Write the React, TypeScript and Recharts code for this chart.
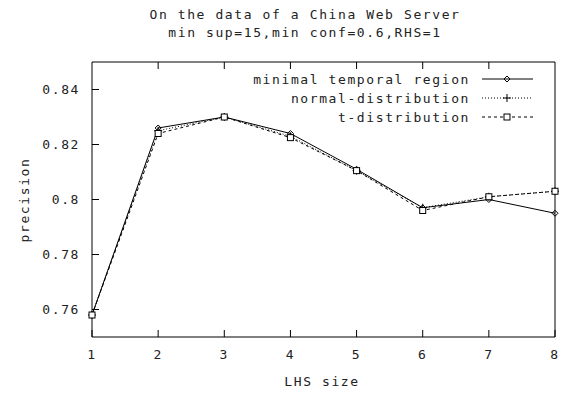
import React from "react";
import {
  LineChart,
  Line,
  XAxis,
  YAxis,
} from "recharts";

const lhsSize = [1, 2, 3, 4, 5, 6, 7, 8];
const minimalRegion = [0.758, 0.826, 0.83, 0.824, 0.811, 0.797, 0.8, 0.795];
const normalDist = [0.758, 0.825, 0.83, 0.823, 0.8105, 0.797, 0.801, 0.803];
const tDist = [0.758, 0.824, 0.83, 0.8225, 0.8105, 0.796, 0.801, 0.803];
const yTicks = [0.76, 0.78, 0.8, 0.82, 0.84];

const data = lhsSize.map((x, i) => ({
  x,
  minimal: minimalRegion[i],
  normal: normalDist[i],
  tdist: tDist[i],
}));

const FONT = "'DejaVu Sans Mono', monospace";
const textStyle = { fontFamily: FONT, fontSize: 13, letterSpacing: 1.6, fill: "#222" };
const TICK = 7;

const series = [
  { key: "minimal", name: "minimal temporal region", dash: undefined, marker: "diamond" },
  { key: "normal", name: "normal-distribution", dash: "1 2", marker: "plus" },
  { key: "tdist", name: "t-distribution", dash: "3 3", marker: "square" },
];

function Marker({ kind, cx, cy }: { kind: string; cx: number; cy: number }) {
  if (kind === "diamond")
    return (
      <polygon
        points={`${cx},${cy - 3} ${cx + 3},${cy} ${cx},${cy + 3} ${cx - 3},${cy}`}
        fill="none"
        stroke="#000"
      />
    );
  if (kind === "plus")
    return (
      <g stroke="#000">
        <line x1={cx - 4} y1={cy} x2={cx + 4} y2={cy} />
        <line x1={cx} y1={cy - 4} x2={cx} y2={cy + 4} />
      </g>
    );
  return <rect x={cx - 3} y={cy - 3} width={6} height={6} fill="#fff" stroke="#000" />;
}

const dotFor = (kind: string) => (p: any) =>
  <Marker key={`${kind}-${p.index}`} kind={kind} cx={p.cx} cy={p.cy} />;

function BottomTick({ x, y, payload }: any) {
  return (
    <g>
      <line x1={x} y1={y} x2={x} y2={y - TICK} stroke="#000" />
      <text x={x} y={y + 22} textAnchor="middle" style={textStyle}>
        {payload.value}
      </text>
    </g>
  );
}

function TopTick({ x, y }: any) {
  return <line x1={x} y1={y} x2={x} y2={y + TICK} stroke="#000" />;
}

function LeftTick({ x, y, payload }: any) {
  return (
    <g>
      <line x1={x} y1={y} x2={x + TICK} y2={y} stroke="#000" />
      <text x={x - 12} y={y + 4} textAnchor="end" style={textStyle}>
        {payload.value === 0.8 ? "0.8" : payload.value.toFixed(2)}
      </text>
    </g>
  );
}

function RightTick({ x, y }: any) {
  return <line x1={x} y1={y} x2={x - TICK} y2={y} stroke="#000" />;
}

// key drawn in the upper right corner of the plot
function KeyBox() {
  return (
    <g>
      {series.map((s, i) => {
        const y = 79 + i * 19;
        return (
          <g key={s.key}>
            <text x={470} y={y + 5} textAnchor="end" style={textStyle}>
              {s.name}
            </text>
            <line x1={482} y1={y} x2={533} y2={y} stroke="#000" strokeDasharray={s.dash} />
            <Marker kind={s.marker} cx={507} cy={y} />
          </g>
        );
      })}
    </g>
  );
}

export default function App() {
  return (
    <div style={{ position: "absolute", left: 0, top: 0, width: 561, height: 396, background: "#fff" }}>
      <LineChart
        width={561}
        height={396}
        data={data}
        margin={{ top: 61, right: 5, bottom: 0, left: 0 }}
      >
        <text x={305} y={19} textAnchor="middle" style={textStyle}>
          On the data of a China Web Server
        </text>
        <text x={305} y={37} textAnchor="middle" style={textStyle}>
          min sup=15,min conf=0.6,RHS=1
        </text>
        <text
          x={29}
          y={200}
          textAnchor="middle"
          transform="rotate(-90 29 200)"
          style={textStyle}
        >
          precision
        </text>
        <text x={322} y={386} textAnchor="middle" style={textStyle}>
          LHS size
        </text>
        <KeyBox />
        <XAxis
          dataKey="x"
          type="number"
          domain={[1, 8]}
          ticks={lhsSize}
          height={59}
          tickSize={0}
          tickMargin={0}
          tickLine={false}
          axisLine={{ stroke: "#000" }}
          tick={<BottomTick />}
          interval={0}
        />
        <XAxis
          xAxisId="top"
          orientation="top"
          dataKey="x"
          type="number"
          domain={[1, 8]}
          ticks={lhsSize.slice(1, -1)}
          height={1}
          tickSize={0}
          tickMargin={0}
          tickLine={false}
          axisLine={{ stroke: "#000" }}
          tick={<TopTick />}
          interval={0}
        />
        <YAxis
          type="number"
          domain={[0.75, 0.85]}
          ticks={yTicks}
          width={92}
          tickSize={0}
          tickMargin={0}
          tickLine={false}
          axisLine={{ stroke: "#000" }}
          tick={<LeftTick />}
          interval={0}
        />
        <YAxis
          yAxisId="right"
          orientation="right"
          type="number"
          domain={[0.75, 0.85]}
          ticks={yTicks}
          width={1}
          tickSize={0}
          tickMargin={0}
          tickLine={false}
          axisLine={{ stroke: "#000" }}
          tick={<RightTick />}
          interval={0}
        />
        {series.map((s) => (
          <Line
            key={s.key}
            dataKey={s.key}
            name={s.name}
            stroke="#000"
            strokeWidth={1}
            strokeDasharray={s.dash}
            dot={dotFor(s.marker)}
            isAnimationActive={false}
          />
        ))}
      </LineChart>
    </div>
  );
}
